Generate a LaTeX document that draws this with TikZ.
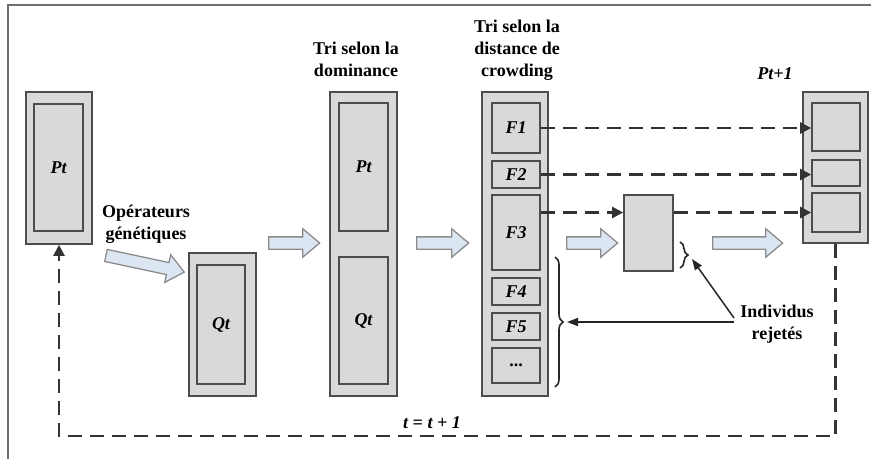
\documentclass[tikz,border=0pt]{standalone}
\usepackage{fontspec}
\setmainfont{Liberation Serif}
\usetikzlibrary{arrows.meta,shapes.arrows,decorations.pathreplacing,calc}
\definecolor{boxfill}{HTML}{D9D9D9}
\definecolor{boxline}{HTML}{4D4D4D}
\definecolor{arrfill}{HTML}{DCE6F2}
\definecolor{arrline}{HTML}{8C8C8C}
\definecolor{frameline}{HTML}{6E6E6E}
\tikzset{
  obox/.style={draw=boxline, fill=boxfill, line width=1.6pt, inner sep=0pt},
  ibox/.style={draw=boxline, fill=boxfill, line width=1.6pt, inner sep=0pt, font=\fontsize{18}{20}\selectfont\bfseries\itshape},
  blockarr/.style={single arrow, draw=arrline, fill=arrfill, line width=1.3pt, inner xsep=0pt, inner ysep=5.5pt,
    minimum width=27pt, single arrow head extend=8pt, single arrow tip angle=80},
  lbl/.style={font=\fontsize{18}{22}\selectfont\bfseries, align=center, inner sep=0pt},
  ilbl/.style={font=\fontsize{18}{21}\selectfont\bfseries\itshape, inner sep=0pt},
  dasharr/.style={draw=black!80, line width=2.2pt, dash pattern=on 14pt off 8pt, -{Triangle[length=11pt,width=11pt]}},
  solarr/.style={draw=black!85, line width=1.5pt, -{Triangle[length=11pt,width=8pt]}},
  bracestyle/.style={draw=black!85, line width=1.6pt, decorate},
}
\begin{document}
\begin{tikzpicture}[x=1pt,y=-1pt]
\useasboundingbox (0,0) rectangle (871,459);
% frame
\draw[frameline, line width=1.8pt] (8,459) -- (8,5) -- (871,5);

% P_t
\node[obox, minimum width=66pt, minimum height=152pt] (pt) at (59,168) {};
\node[ibox, minimum width=49pt, minimum height=127pt] (pti) at (58.5,167.5) {Pt};
\node[lbl] (op) at (146,224) {Opérateurs\\génétiques};
\node[blockarr, minimum height=80pt, rotate=-12] (a1) at (141.5,263) {};

% Q_t
\node[obox, minimum width=67pt, minimum height=143pt] (qt) at (222.5,324.5) {};
\node[ibox, minimum width=48pt, minimum height=119pt] (qti) at (221,324.5) {Qt};

\node[blockarr, minimum height=51pt] (a2) at (290.5,243) {};

% dominance
\node[lbl] (tdom) at (356,59) {Tri selon la\\dominance};
\node[obox, minimum width=67pt, minimum height=304pt] (dom) at (363.5,244) {};
\node[ibox, minimum width=49pt, minimum height=128pt] (dpt) at (363.5,167) {Pt};
\node[ibox, minimum width=49pt, minimum height=127pt] (dqt) at (363.5,320.5) {Qt};

\node[blockarr, minimum height=52pt] (a3) at (439,243) {};

% crowding
\node[lbl] (tcr) at (517,50) {Tri selon la\\distance de\\crowding};
\node[obox, minimum width=66pt, minimum height=304pt] (cr) at (515,244) {};
\node[ibox, minimum width=48pt, minimum height=50pt] (f1) at (516,128) {F1};
\node[ibox, minimum width=48pt, minimum height=27pt] (f2) at (516,174.5) {F2};
\node[ibox, minimum width=48pt, minimum height=75pt] (f3) at (516,232.5) {F3};
\node[ibox, minimum width=48pt, minimum height=27pt] (f4) at (516,291.5) {F4};
\node[ibox, minimum width=48pt, minimum height=27pt] (f5) at (516,326.5) {F5};
\node[ibox, minimum width=48pt, minimum height=35pt, font=\fontsize{18}{20}\selectfont\bfseries] (f6) at (516,365.5) {...};

\node[blockarr, minimum height=51pt] (a4) at (588.5,243) {};

% selection box
\node[obox, minimum width=49pt, minimum height=76pt] (sel) at (648.5,233) {};

\node[blockarr, minimum height=70pt] (a5) at (744,243) {};

% P_{t+1}
\node[ilbl] (tpt1) at (775,74) {Pt+1};
\node[obox, minimum width=65pt, minimum height=151pt] (pt1) at (835.5,167.5) {};
\node[ibox, minimum width=48pt, minimum height=48pt] (pa) at (836,127) {};
\node[ibox, minimum width=48pt, minimum height=26pt] (pb) at (836,173) {};
\node[ibox, minimum width=48pt, minimum height=39pt] (pc) at (836,212.5) {};

% dashed transfers
\draw[dasharr] (f1.east) -- (f1.east -| pa.west);
\draw[dasharr] (f2.east) -- (f2.east -| pb.west);
\draw[dasharr] (f3.east |- pc.west) -- (sel.west |- pc.west);
\draw[dasharr] (sel.east |- pc.west) -- (pc.west);

% braces
\coordinate (sb1) at (680,242);
\coordinate (sb2) at (680,268);
\draw[bracestyle, decoration={brace, amplitude=8pt}] (sb1) -- (sb2);
\coordinate (stip) at (692,259);
\coordinate (bb1) at (555,257);
\coordinate (bb2) at (555,387);
\draw[bracestyle, decoration={brace, amplitude=8pt}] (bb1) -- (bb2);
\coordinate (btip) at (567,322);

% rejected individuals
\node[lbl] (ind) at (777,324) {Individus\\rejetés};
\coordinate (indd) at (734,318);
\coordinate (indh) at (734,322);
\draw[solarr] (indd) -- (stip);
\draw[solarr] (indh) -- (btip);

% feedback loop
\coordinate (fb) at (835.5,436);
\draw[dasharr] (pt1.south) -- (fb) -| (pt.south);
\node[ilbl] (tt) at (432,423) {t = t + 1};
\end{tikzpicture}
\end{document}
